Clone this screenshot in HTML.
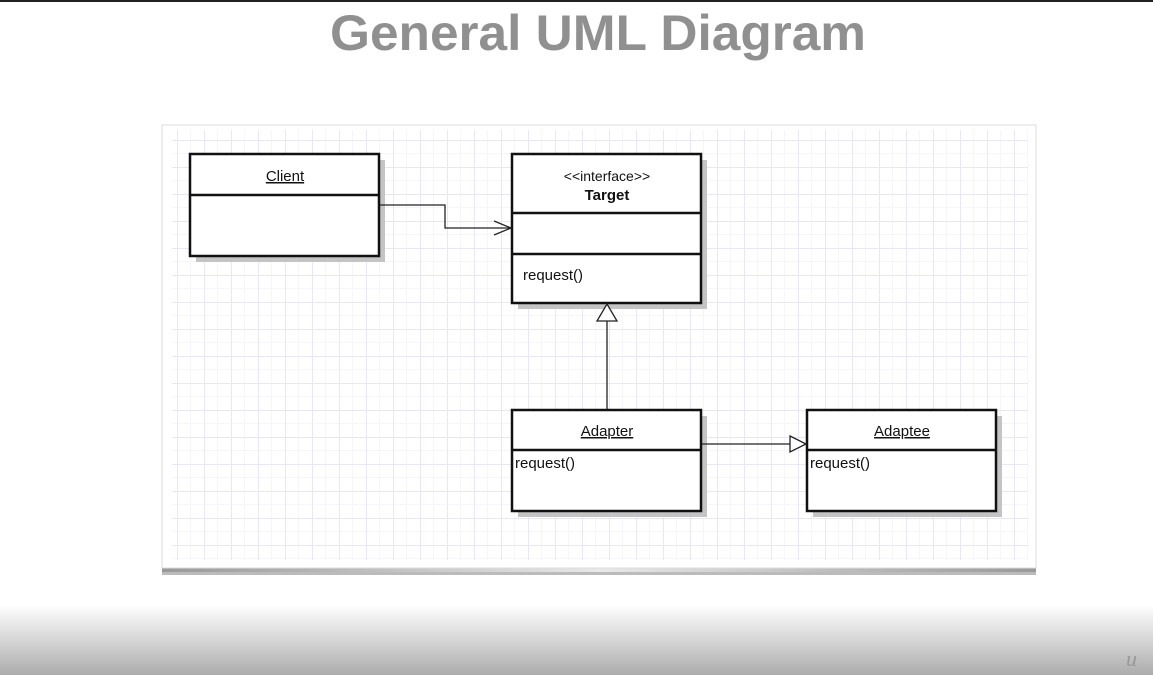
<!DOCTYPE html>
<html><head><meta charset="utf-8"><style>
body{margin:0;width:1153px;height:675px;overflow:hidden;background:#fff;font-family:"Liberation Sans",sans-serif;position:relative}
.bot{position:absolute;left:0;top:605px;width:1153px;height:70px;background:linear-gradient(#fff,#acacac)}
</style></head><body>
<div style="position:absolute;left:0;top:0;width:1153px;height:2px;background:#222"></div>
<div class="bot"></div>
<svg width="1153" height="675" style="position:absolute;left:0;top:0">
<defs>
<pattern id="g" width="27" height="27" patternUnits="userSpaceOnUse" x="177" y="140">
<path d="M0 13.5H27M13.5 0V27" stroke="#f5f5fa" stroke-width="1" fill="none"/>
<path d="M0 0.5H27M0.5 0V27" stroke="#e8e7f5" stroke-width="1" fill="none"/>
</pattern>
<linearGradient id="sh" x1="0" x2="1"><stop offset="0" stop-color="#999"/><stop offset="0.5" stop-color="#e8e8e8"/><stop offset="1" stop-color="#999"/></linearGradient>
</defs>
<text x="598" y="50" text-anchor="middle" font-size="50" font-weight="bold" fill="#909090" textLength="536" lengthAdjust="spacingAndGlyphs" font-family="Liberation Sans">General UML Diagram</text>
<rect x="162" y="566" width="874" height="9" fill="url(#sh)"/>
<rect x="162" y="572" width="874" height="3" fill="#bbb"/>
<rect x="162" y="125" width="874" height="443" fill="#fff" stroke="#ddd"/>
<rect x="172" y="130" width="856" height="430" fill="url(#g)"/>
<g fill="#c4c4c4">
<rect x="196" y="160" width="189" height="102"/>
<rect x="518" y="160" width="189" height="149"/>
<rect x="518" y="416" width="189" height="101"/>
<rect x="813" y="416" width="189" height="101"/>
</g>
<g fill="#fff" stroke="#111" stroke-width="2.5">
<rect x="190" y="154" width="189" height="102"/>
<rect x="512" y="154" width="189" height="149"/>
<rect x="512" y="410" width="189" height="101"/>
<rect x="807" y="410" width="189" height="101"/>
</g>
<g stroke="#111" stroke-width="2.5">
<line x1="190" y1="195" x2="379" y2="195"/>
<line x1="512" y1="213" x2="701" y2="213"/>
<line x1="512" y1="254" x2="701" y2="254"/>
<line x1="512" y1="450" x2="701" y2="450"/>
<line x1="807" y1="450" x2="996" y2="450"/>
</g>
<g stroke="#222" stroke-width="1.3" fill="none">
<path d="M380 205H445V228H511"/>
<path d="M494 221L511 228L494 235"/>
<path d="M607 409V321"/>
<path d="M597 321L607 304L617 321Z" fill="#fff"/>
<path d="M702 444H790"/>
<path d="M790 436L806 444L790 452Z" fill="#fff"/>
</g>
<g font-size="15" fill="#111" font-family="Liberation Sans">
<text x="285" y="181" text-anchor="middle" text-decoration="underline">Client</text>
<text x="607" y="181" text-anchor="middle" font-size="14">&lt;&lt;interface&gt;&gt;</text>
<text x="607" y="200" text-anchor="middle" font-weight="bold">Target</text>
<text x="523" y="280">request()</text>
<text x="607" y="436" text-anchor="middle" text-decoration="underline">Adapter</text>
<text x="515" y="468">request()</text>
<text x="902" y="436" text-anchor="middle" text-decoration="underline">Adaptee</text>
<text x="810" y="468">request()</text>
</g>
<text x="1126" y="666" font-size="22" fill="#999" font-style="italic" font-family="Liberation Serif">u</text>
</svg>
</body></html>
